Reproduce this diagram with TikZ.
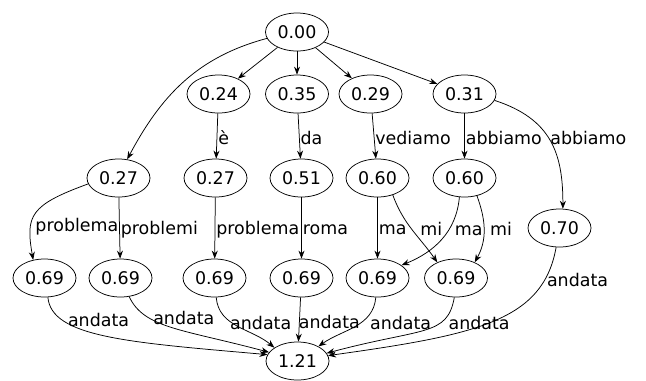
\documentclass[tikz,border=0pt]{standalone}
\usepackage{fontspec}
\setmainfont{DejaVu Sans}
\usetikzlibrary{shapes.geometric,arrows.meta}

\begin{document}
\begin{tikzpicture}[x=1bp,y=1bp,
    state/.style={ellipse, draw, line width=0.75pt, minimum width=63bp, minimum height=38bp, inner sep=0pt, font=\fontsize{17.5}{20}\selectfont},
    arc/.style={line width=0.75pt, -{Stealth[length=8bp,width=6bp]}},
    lbl/.style={anchor=west, inner sep=1bp, yshift=-2bp, font=\fontsize{17.5}{20}\selectfont}]

    \useasboundingbox (0,0) rectangle (646,-380);

    % Start node and its successors
    \node[state] (n000) at (297,-32) {0.00};
    \node[state] (n024) at (218.5,-94) {0.24};
    \node[state] (n035) at (297,-94) {0.35};
    \node[state] (n029) at (370.5,-94) {0.29};
    \node[state] (n031) at (464.5,-94) {0.31};

    % Second row
    \node[state] (n027a) at (118.5,-178) {0.27};
    \node[state] (n027b) at (215.5,-178) {0.27};
    \node[state] (n051) at (301.5,-178) {0.51};
    \node[state] (n060a) at (377.5,-178) {0.60};
    \node[state] (n060b) at (464.5,-178) {0.60};
    \node[state] (n070) at (559.5,-228) {0.70};

    % Third row
    \node[state] (n069a) at (44.5,-278) {0.69};
    \node[state] (n069b) at (120.5,-278) {0.69};
    \node[state] (n069c) at (214.5,-278) {0.69};
    \node[state] (n069d) at (301.5,-278) {0.69};
    \node[state] (n069e) at (377.5,-278) {0.69};
    \node[state] (n069f) at (456,-278) {0.69};

    % End node
    \node[state] (n121) at (297.5,-361) {1.21};

    % Edges leaving 0.00
    \draw[arc] (n000.192) to[out=195, in=62] (n027a.65);
    \draw[arc] (n000) -- (n024);
    \draw[arc] (n000) -- (n035);
    \draw[arc] (n000) -- (n029);
    \draw[arc] (n000) -- (n031);

    % Edges into the second row
    \draw[arc] (n024) -- node[lbl] {è} (n027b);
    \draw[arc] (n035) -- node[lbl] {da} (n051);
    \draw[arc] (n029) -- node[lbl] {vediamo} (n060a);
    \draw[arc] (n031) -- node[lbl] {abbiamo} (n060b);
    \draw[arc] (n031.-12) to[out=-18, in=90, out distance=60bp, in distance=55bp] node[lbl, pos=0.45, xshift=2bp] {abbiamo} (n070.80);

    % Edges into the third row
    \draw[arc] (n027a.191) to[out=200, in=100, out distance=62bp, in distance=45bp] node[lbl, pos=0.66, xshift=3bp] {problema} (n069a.122);
    \draw[arc] (n027a) -- node[lbl] {problemi} (n069b);
    \draw[arc] (n027b) -- node[lbl] {problema} (n069c);
    \draw[arc] (n051) -- node[lbl] {roma} (n069d);
    \draw[arc] (n060a) -- node[lbl] {ma} (n069e);
    \draw[arc] (n060a.-48) to[out=-70, in=125] node[lbl, pos=0.45, xshift=9bp] {mi} (n069f.140);
    \draw[arc] (n060b.-105) to[out=-95, in=22] node[lbl, pos=0.35, xshift=4bp] {ma} (n069e.28);
    \draw[arc] (n060b.-55) to[out=-70, in=61] node[lbl, pos=0.45, xshift=5bp] {mi} (n069f.40);

    % Edges into 1.21
    \draw[arc] (n070.-100) to[out=-100, in=8, out distance=75bp, in distance=150bp] node[lbl, pos=0.16] {andata} (n121.10);
    \draw[arc] (n069a.-80) to[out=-85, in=175, out distance=40bp, in distance=140bp] node[lbl, pos=0.21, xshift=7bp] {andata} (n121.168);
    \draw[arc] (n069b.-65) to[out=-65, in=165, out distance=35bp, in distance=90bp] node[lbl, pos=0.26, xshift=6bp] {andata} (n121.163);
    \draw[arc] (n069c.-85) to[out=-85, in=140] node[lbl, pos=0.36] {andata} (n121.150);
    \draw[arc] (n069d) -- node[lbl, xshift=-2bp] {andata} (n121);
    \draw[arc] (n069e.-95) to[out=-95, in=35] node[lbl, pos=0.36, xshift=5bp] {andata} (n121.35);
    \draw[arc] (n069f.-95) to[out=-100, in=15, out distance=40bp, in distance=100bp] node[lbl, pos=0.28, xshift=4bp] {andata} (n121.15);

\end{tikzpicture}
\end{document}
